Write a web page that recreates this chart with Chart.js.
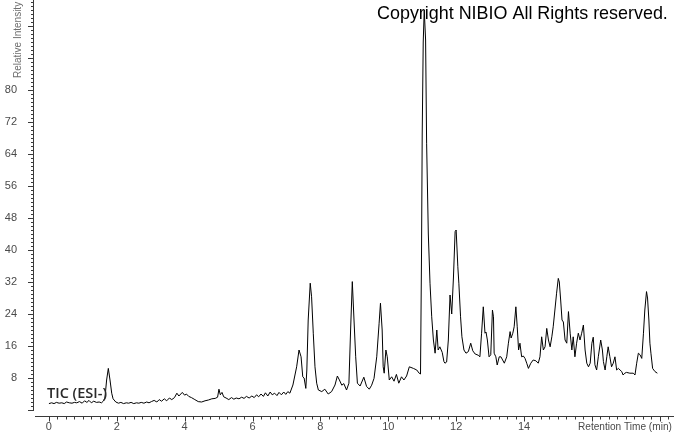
<!DOCTYPE html>
<html>
<head>
<meta charset="utf-8">
<script src="https://cdn.jsdelivr.net/npm/chart.js"></script>
<style>
  html, body { margin: 0; padding: 0; background: #fff; }
  canvas { display: block; }
</style>
</head>
<body>
<canvas id="tic" width="674" height="434"></canvas>
<script>
// Retention time (min) and relative intensity
const times = [
  0.00, 0.08, 0.15, 0.22, 0.30, 0.38, 0.45, 0.52, 0.60, 0.68, 0.75, 0.82, 0.90, 0.98, 1.05, 1.12, 1.18, 1.25, 1.32, 1.40, 1.48, 1.55, 1.60,
  1.65, 1.70, 1.75, 1.80, 1.85, 1.89, 1.97,
  2.05, 2.12, 2.20, 2.28, 2.35, 2.42, 2.50, 2.58, 2.65, 2.72, 2.80, 2.88, 2.95,
  3.02, 3.10, 3.18, 3.25, 3.32, 3.40, 3.47, 3.55, 3.62,
  3.70, 3.77, 3.83, 3.93, 4.00, 4.05, 4.12, 4.20,
  4.30, 4.40, 4.50, 4.60, 4.70, 4.80, 4.90,
  4.97, 5.01, 5.05, 5.10, 5.15,
  5.22, 5.30, 5.38, 5.45, 5.52, 5.60, 5.68, 5.75, 5.82, 5.90, 5.98, 6.05, 6.12, 6.18, 6.25, 6.32,
  6.38, 6.45, 6.52, 6.58, 6.65, 6.72, 6.78, 6.85, 6.92, 6.98, 7.04, 7.10,
  7.19, 7.30, 7.37, 7.43, 7.48, 7.52, 7.57, 7.60, 7.64, 7.70, 7.74, 7.79, 7.84, 7.89, 7.94,
  8.04, 8.13, 8.23, 8.33, 8.43, 8.50, 8.56, 8.63, 8.69, 8.77, 8.84, 8.89, 8.94, 8.99,
  9.04, 9.09, 9.17, 9.28, 9.36, 9.44, 9.51, 9.58, 9.66, 9.73, 9.77, 9.82, 9.85, 9.88, 9.93, 9.97,
  10.03, 10.10, 10.17, 10.24, 10.31, 10.39, 10.46, 10.54, 10.62, 10.74, 10.84, 10.91, 10.95, 10.98,
  11.00, 11.03, 11.06, 11.10, 11.13, 11.18, 11.23, 11.28, 11.33, 11.38, 11.43, 11.47, 11.52, 11.59, 11.64, 11.67, 11.72, 11.77, 11.82, 11.87, 11.92, 11.97,
  12.00, 12.05, 12.08, 12.13, 12.17, 12.23, 12.29, 12.36, 12.43, 12.49, 12.56, 12.65, 12.70, 12.75, 12.80, 12.85, 12.88, 12.92, 12.97,
  13.02, 13.07, 13.10, 13.12, 13.17, 13.21, 13.27, 13.32, 13.37, 13.42, 13.49, 13.54, 13.59, 13.62, 13.67, 13.71, 13.76, 13.80, 13.84, 13.88, 13.93, 13.98,
  14.03, 14.08, 14.13, 14.20, 14.27, 14.35, 14.42, 14.47, 14.52, 14.57, 14.62, 14.67, 14.72, 14.77, 14.82, 14.86, 14.91, 14.96,
  15.01, 15.04, 15.08, 15.12, 15.16, 15.21, 15.26, 15.31, 15.36, 15.41, 15.45, 15.50, 15.55, 15.60, 15.65, 15.70, 15.75, 15.80, 15.85, 15.90, 15.95,
  16.00, 16.04, 16.09, 16.14, 16.19, 16.26, 16.31, 16.34, 16.39, 16.44, 16.48, 16.53, 16.58, 16.63, 16.68, 16.73, 16.78, 16.83, 16.88, 16.92, 16.97,
  17.02, 17.12, 17.22, 17.27, 17.32, 17.37, 17.42, 17.47, 17.52, 17.56, 17.61, 17.64, 17.68, 17.71, 17.74, 17.79, 17.86, 17.93
];
const intensity = [
  1.6, 1.8, 1.6, 1.9, 1.7, 1.8, 1.6, 2.0, 1.8, 1.7, 1.9, 1.8, 2.1, 1.7, 2.3, 1.9, 2.4, 1.8, 2.2, 1.9, 2.0, 1.8, 2.2,
  3.0, 7.5, 10.4, 7.5, 4.2, 2.8, 2.0,
  1.7, 1.9, 1.6, 1.8, 1.7, 1.9, 1.6, 1.8, 1.7, 1.9, 1.7, 2.0, 1.8,
  2.1, 2.4, 2.0, 2.6, 2.2, 2.8, 2.3, 3.0, 2.6,
  3.1, 4.2, 3.5, 4.4, 3.7, 4.0, 3.4, 3.1,
  2.6, 2.1, 2.0, 2.3, 2.5, 2.8, 2.9,
  3.2, 5.2, 3.8, 4.4, 3.3,
  3.0, 2.6, 3.1, 2.7, 3.0, 2.8, 3.2, 2.9, 3.4, 3.0, 3.5, 3.1, 3.8, 3.3, 4.0, 3.4,
  4.3, 3.5, 4.5, 3.8, 4.2, 3.6, 4.4, 3.8, 4.5, 3.9, 4.6, 4.2,
  6.25, 10.8, 15.0, 13.3, 8.3, 8.0, 5.4, 10.0, 22.5, 31.7, 28.3, 19.2, 10.8, 6.7, 5.0,
  4.6, 5.2, 4.0, 4.6, 6.25, 8.5, 7.5, 6.2, 6.6, 5.0, 6.7, 20.0, 32.1, 22.5,
  13.3, 6.7, 6.0, 8.2, 5.9, 5.2, 6.2, 7.9, 13.3, 21.7, 26.7, 20.0, 10.8, 9.2, 15.0, 13.3,
  7.5, 8.3, 7.2, 8.9, 6.7, 8.3, 7.5, 8.5, 10.8, 10.4, 10.0, 9.2, 9.0, 39.0,
  69.0, 92.0, 100.0, 92.5, 66.7, 44.0, 31.7, 23.3, 17.5, 14.2, 20.0, 15.0, 15.8, 14.4, 12.1, 11.7, 12.0, 17.5, 28.75, 24.0, 33.0, 44.6,
  45.0, 35.8, 31.7, 23.3, 18.3, 15.0, 14.2, 14.6, 16.7, 14.8, 14.0, 13.7, 13.3, 19.2, 25.8, 19.2, 19.5, 17.5, 13.3,
  13.8, 25.0, 23.3, 14.2, 13.3, 11.25, 13.3, 13.3, 12.5, 11.7, 13.3, 16.7, 19.6, 18.0, 19.2, 20.8, 25.8, 20.8, 15.0, 16.7, 13.3, 13.5,
  12.9, 11.7, 10.4, 11.7, 12.5, 12.3, 11.7, 13.3, 18.3, 15.0, 15.8, 20.4, 17.5, 15.8, 18.3, 20.8, 25.0, 29.2,
  32.9, 32.0, 27.5, 22.5, 22.0, 17.5, 16.7, 24.6, 19.2, 15.0, 18.3, 13.3, 16.7, 19.2, 17.5, 19.2, 21.25, 15.0, 11.7, 10.8, 11.7,
  16.7, 18.2, 11.3, 10.0, 13.3, 17.5, 15.0, 12.1, 10.0, 13.3, 15.8, 13.3, 10.8, 11.7, 13.3, 10.0, 10.4, 10.0, 9.6, 8.75, 9.2,
  9.4, 9.2, 9.2, 8.75, 11.7, 14.2, 13.8, 12.9, 19.2, 25.0, 29.6, 28.0, 22.5, 16.7, 14.2, 10.4, 9.6, 9.2
];

// tick labels
const xTicks = [0, 2, 4, 6, 8, 10, 12, 14];
const yTicks = [8, 16, 24, 32, 40, 48, 56, 64, 72, 80];

const points = times.map((t, i) => ({ x: t, y: intensity[i] }));

const sans = '"Liberation Sans", Arial, sans-serif';

// fit a piece of text to a measured width
const fitFont = (ctx, text, family, weight, width) => {
    ctx.font = weight + ' 20px ' + family;
    const size = 20 * width / ctx.measureText(text).width;
    return weight + ' ' + size.toFixed(2) + 'px ' + family;
};

// axes, ticks, tick labels and annotation texts
const frame = {
    id: 'frame',
    afterDraw(chart) {
        const ctx = chart.ctx;
        const xs = chart.scales.x, ys = chart.scales.y;
        const left = chart.chartArea.left;
        const y0 = ys.getPixelForValue(0);
        ctx.save();
        ctx.strokeStyle = '#3a3a3a';
        ctx.lineWidth = 1;
        ctx.beginPath();
        // vertical axis
        ctx.moveTo(left - 0.5, 0);
        ctx.lineTo(left - 0.5, Math.round(y0) + 0.5);
        for (let v = 0; v <= 102; v++) {
            const py = Math.round(ys.getPixelForValue(v)) + 0.5;
            const len = v % 8 === 0 ? 6 : 3;
            ctx.moveTo(left - len, py);
            ctx.lineTo(left, py);
        }
        // horizontal axis, a little below zero
        const ax = Math.round(y0) + 6.5;
        ctx.moveTo(left + 1, ax);
        ctx.lineTo(chart.width, ax);
        for (let v = 0; v <= 18.4; v += 0.25) {
            const px = Math.round(xs.getPixelForValue(v)) + 0.5;
            const len = Math.abs(v % 2) < 0.01 ? 5 : 3;
            ctx.moveTo(px, ax);
            ctx.lineTo(px, ax + len);
        }
        ctx.stroke();

        // tick labels
        ctx.fillStyle = '#4a4a4a';
        ctx.font = '11px ' + sans;
        ctx.textBaseline = 'middle';
        ctx.textAlign = 'right';
        yTicks.forEach(v => ctx.fillText(String(v), 17, ys.getPixelForValue(v)));
        ctx.textAlign = 'center';
        xTicks.forEach(v => ctx.fillText(String(v), xs.getPixelForValue(v), 427));

        // x title on the tick label row
        ctx.textAlign = 'left';
        ctx.font = fitFont(ctx, 'Retention Time (min)', sans, 'normal', 94);
        ctx.fillText('Retention Time (min)', 578, 427);

        // y title, cut by the top edge
        ctx.fillStyle = '#6e6e6e';
        ctx.font = '10px ' + sans;
        ctx.translate(18, 78);
        ctx.rotate(-Math.PI / 2);
        ctx.fillText('Relative Intensity', 0, 0);
        ctx.setTransform(1, 0, 0, 1, 0, 0);

        // trace label
        ctx.fillStyle = '#2a2a2a';
        ctx.font = fitFont(ctx, 'TIC (ESI-)', '"Open Sans", sans-serif', '600', 60);
        ctx.fillText('TIC (ESI-)', 47, 394);

        // copyright
        ctx.fillStyle = '#000';
        ctx.font = fitFont(ctx, 'Copyright NIBIO All Rights reserved.', sans, 'normal', 291);
        ctx.fillText('Copyright NIBIO All Rights reserved.', 377, 14);
        ctx.restore();
    }
};

const config = {
    type: 'line',
    data: {
        datasets: [{
            label: 'TIC (ESI-)',
            data: points,
            borderColor: '#000',
            borderWidth: 1,
            pointRadius: 0,
            fill: false,
            tension: 0
        }]
    },
    options: {
        responsive: false,
        animation: false,
        layout: { padding: { left: 34, top: 0, right: 0, bottom: 24 } },
        plugins: {
            legend: { display: false },
            tooltip: { enabled: false }
        },
        scales: {
            x: { type: 'linear', min: -0.44, max: 18.42, display: false },
            y: { min: 0, max: 102.5, display: false }
        }
    },
    plugins: [frame]
};

const chart = new Chart(document.getElementById('tic').getContext('2d'), config);
</script>
</body>
</html>
